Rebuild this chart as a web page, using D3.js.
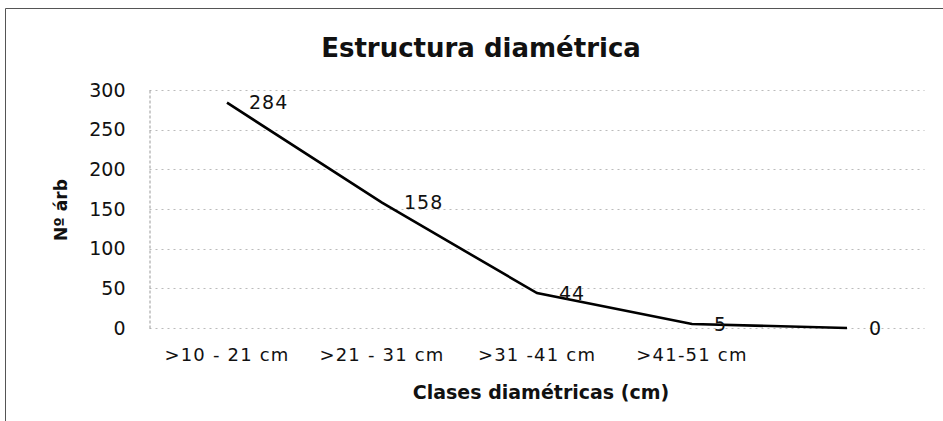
<!DOCTYPE html>
<html><head><meta charset="utf-8">
<script src="https://cdn.jsdelivr.net/npm/d3@7"></script>
<style>body{margin:0;background:#fff}</style>
</head><body>
<script>
const categories = [">10 - 21 cm", ">21 - 31 cm", ">31 -41 cm", ">41-51 cm", ""];
const values = [284, 158, 44, 5, 0];
const yTicks = [0, 50, 100, 150, 200, 250, 300];
const title = "Estructura diamétrica";
const xTitle = "Clases diamétricas (cm)";
const yTitle = "Nº árb";

const W = 943, H = 421;
const svg = d3.select("body").append("svg").attr("width", W).attr("height", H);
const m = {left: 149.5, right: 18.5, top: 90, bottom: 93};
const x = d3.scaleBand().domain(d3.range(categories.length)).range([m.left, W - m.right]);
const y = d3.scaleLinear().domain([0, 300]).range([H - m.bottom, m.top]);
const cx = i => x(i) + x.bandwidth() / 2;
const FONT = "'DejaVu Sans', Verdana, sans-serif";

// frame
svg.append("path").attr("d", `M5.5,${H}V8.5H${W}`).attr("fill", "none").attr("stroke", "#555").attr("stroke-width", 1);

// title
svg.append("text").attr("x", 481).attr("y", 57).attr("text-anchor", "middle")
  .attr("font-family", FONT).attr("font-weight", "bold")
  .attr("font-size", 26).attr("fill", "#111").text(title);

// gridlines
svg.append("g").selectAll("line").data(yTicks).join("line")
  .attr("x1", m.left).attr("x2", W - m.right)
  .attr("y1", d => Math.round(y(d)) + 0.5).attr("y2", d => Math.round(y(d)) + 0.5)
  .attr("stroke", "#bbb").attr("stroke-dasharray", "2,4").attr("stroke-width", 1);

// y axis
const ya = svg.append("g").attr("transform", `translate(${m.left},0)`)
  .call(d3.axisLeft(y).tickValues(yTicks).tickSize(0).tickPadding(24));
ya.select(".domain").attr("stroke", "#999").attr("stroke-dasharray", "3,2");
ya.selectAll("text").attr("font-family", FONT).attr("font-size", 19).attr("fill", "#111");

// x axis labels
const xa = svg.append("g").attr("transform", `translate(0,${H - m.bottom})`)
  .call(d3.axisBottom(x).tickFormat(i => categories[i]).tickSize(0).tickPadding(20));
xa.select(".domain").remove();
xa.selectAll("text").attr("font-family", FONT).attr("font-size", 18)
  .attr("letter-spacing", 1.2).attr("fill", "#111");

// axis titles
svg.append("text").attr("x", 541).attr("y", 399).attr("text-anchor", "middle")
  .attr("font-family", FONT).attr("font-weight", "bold")
  .attr("font-size", 19).attr("fill", "#111").text(xTitle);
svg.append("text").attr("transform", "translate(67,210) rotate(-90)").attr("text-anchor", "middle")
  .attr("font-family", FONT).attr("font-weight", "bold")
  .attr("font-size", 17).attr("fill", "#111").text(yTitle);

// line
const line = d3.line().x((d, i) => cx(i)).y(d => y(d));
svg.append("path").datum(values).attr("d", line).attr("fill", "none")
  .attr("stroke", "#000").attr("stroke-width", 2.6);

// data labels
svg.append("g").selectAll("text").data(values).join("text")
  .attr("x", (d, i) => cx(i) + 22).attr("y", d => y(d)).attr("dy", "0.35em")
  .attr("font-family", FONT).attr("font-size", 19).attr("letter-spacing", 1).attr("fill", "#111")
  .text(d => d);
</script>
</body></html>
